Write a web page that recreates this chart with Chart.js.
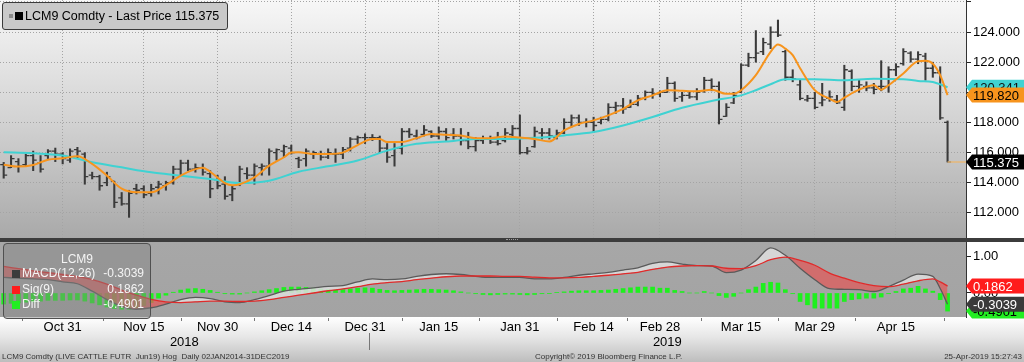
<!DOCTYPE html>
<html>
<head>
<meta charset="utf-8">
<script src="https://cdn.jsdelivr.net/npm/chart.js@4.4.1/dist/chart.umd.min.js"></script>
<style>
  body { margin: 0; width: 1024px; height: 362px; position: relative; overflow: hidden; background: #fff;
         font-family: "Liberation Sans", Arial, sans-serif; }
  canvas { position: absolute; left: 0; }
  #main { top: 0; }
  #macd { top: 242px; }
  #sep { position: absolute; left: 0; top: 238px; width: 1024px; height: 4px; background: #3c3c3c; }
  #grip { position: absolute; left: 506px; top: 239px; width: 12px; height: 0; border-top: 1px dotted #9a9a9a; }
  #leg1 { position: absolute; left: 2px; top: 2px; width: 224px; height: 26px; background: #c9c9c9; white-space: nowrap;
          border: 1px solid #3a3a3a; border-radius: 3px; font-size: 12.5px; line-height: 26px; color: #000; }
  #leg1 .sq { position: absolute; }
  #leg2 { position: absolute; left: 3px; top: 243px; width: 146px; height: 74px; background: rgba(130,130,130,0.45);
          border: 1px solid #505050; border-radius: 4px; font-size: 12px; color: #f4f4f4; white-space: nowrap; }
  #leg2 div { position: absolute; left: 0; width: 146px; height: 15px; line-height: 15px; }
  #leg2 .sq { position: absolute; left: 8px; top: 4px; width: 8px; height: 8px; }
  #leg2 .nm { position: absolute; left: 18px; }
  #leg2 .vl { position: absolute; right: 6px; }
  .foot { position: absolute; top: 352px; font-size: 8px; color: #333; white-space: pre; }
</style>
</head>
<body>
<canvas id="main" width="1024" height="238"></canvas>
<div id="sep"></div>
<div id="grip"></div>
<canvas id="macd" width="1024" height="120"></canvas>

<div id="leg1">
  <span class="sq" style="left:6px;top:11px;width:4px;height:4px;background:#8a8a8a"></span>
  <span class="sq" style="left:12px;top:9px;width:8px;height:8px;background:#000"></span>
  <span style="position:absolute;left:22px">LCM9 Comdty - Last Price <span id="lastTxt"></span></span>
</div>

<div id="leg2">
  <div style="top:8px;text-align:center;">LCM9</div>
  <div style="top:22px"><span class="sq" style="background:#3c3c3c"></span><span class="nm">MACD(12,26)</span><span class="vl" id="macdTxt"></span></div>
  <div style="top:38px"><span class="sq" style="background:#ff1c1c"></span><span class="nm">Sig(9)</span><span class="vl" id="sigTxt"></span></div>
  <div style="top:53px"><span class="sq" style="background:#22ee22"></span><span class="nm">Diff</span><span class="vl" id="diffTxt"></span></div>
</div>

<div class="foot" style="left:2px">LCM9 Comdty (LIVE CATTLE FUTR  Jun19) Hog  Daily 02JAN2014-31DEC2019</div>
<div class="foot" style="left:535px">Copyright© 2019 Bloomberg Finance L.P.</div>
<div class="foot" style="right:2px">25-Apr-2019 15:27:43</div>

<script>
// trading days shown on the chart
const dates = [
    'Oct 19', 'Oct 22', 'Oct 23', 'Oct 24', 'Oct 25', 'Oct 26', 'Oct 29', 'Oct 30', 'Oct 31',
    'Nov 1', 'Nov 2', 'Nov 5', 'Nov 6', 'Nov 7', 'Nov 8', 'Nov 9', 'Nov 12', 'Nov 13', 'Nov 14', 'Nov 15',
    'Nov 16', 'Nov 19', 'Nov 20', 'Nov 21', 'Nov 23', 'Nov 26', 'Nov 27', 'Nov 28', 'Nov 29', 'Nov 30',
    'Dec 3', 'Dec 4', 'Dec 5', 'Dec 6', 'Dec 7', 'Dec 10', 'Dec 11', 'Dec 12', 'Dec 13', 'Dec 14',
    'Dec 17', 'Dec 18', 'Dec 19', 'Dec 20', 'Dec 21', 'Dec 24', 'Dec 26', 'Dec 27', 'Dec 28', 'Dec 31',
    'Jan 2', 'Jan 3', 'Jan 4', 'Jan 7', 'Jan 8', 'Jan 9', 'Jan 10', 'Jan 11', 'Jan 14', 'Jan 15',
    'Jan 16', 'Jan 17', 'Jan 18', 'Jan 22', 'Jan 23', 'Jan 24', 'Jan 25', 'Jan 28', 'Jan 29', 'Jan 30', 'Jan 31',
    'Feb 1', 'Feb 4', 'Feb 5', 'Feb 6', 'Feb 7', 'Feb 8', 'Feb 11', 'Feb 12', 'Feb 13', 'Feb 14',
    'Feb 15', 'Feb 19', 'Feb 20', 'Feb 21', 'Feb 22', 'Feb 25', 'Feb 26', 'Feb 27', 'Feb 28',
    'Mar 1', 'Mar 4', 'Mar 5', 'Mar 6', 'Mar 7', 'Mar 8', 'Mar 11', 'Mar 12', 'Mar 13', 'Mar 14', 'Mar 15',
    'Mar 18', 'Mar 19', 'Mar 20', 'Mar 21', 'Mar 22', 'Mar 25', 'Mar 26', 'Mar 27', 'Mar 28', 'Mar 29',
    'Apr 1', 'Apr 2', 'Apr 3', 'Apr 4', 'Apr 5', 'Apr 8', 'Apr 9', 'Apr 10', 'Apr 11', 'Apr 12', 'Apr 15',
    'Apr 16', 'Apr 17', 'Apr 18', 'Apr 22', 'Apr 23', 'Apr 24', 'Apr 25'
];
const tickLabels = ['Oct 31', 'Nov 15', 'Nov 30', 'Dec 14', 'Dec 31', 'Jan 15', 'Jan 31', 'Feb 14', 'Feb 28', 'Mar 15', 'Mar 29', 'Apr 15'];
const priceTicks = [110, 112, 114, 116, 118, 120, 122, 124, 126];

// daily OHLC, LCM9
const opens = [
    115.2, 115.0, 115.4, 115.2, 115.8, 115.3, 115.8, 116.1, 115.9, 115.5,
    116.2, 115.9, 114.5, 114.4, 114.0, 114.1, 113.0, 112.6, 113.6, 113.6,
    113.3, 113.7, 113.8, 114.0, 114.9, 115.3, 114.9, 115.0, 114.6, 114.2,
    113.9, 113.2, 113.9, 114.6, 114.5, 115.0, 115.1, 116.0, 116.1, 116.3,
    115.6, 115.6, 115.9, 115.9, 115.7, 115.9, 115.9, 116.3, 116.9, 117.0,
    117.0, 117.0, 116.3, 115.8, 116.3, 117.4, 117.1, 117.2, 117.4, 117.1,
    117.4, 117.2, 117.1, 116.8, 116.4, 116.8, 116.9, 116.7, 116.8, 117.2,
    117.6, 116.0, 116.4, 117.3, 117.3, 117.0, 117.3, 118.0, 118.3, 118.0,
    118.0, 118.0, 118.2, 119.0, 119.1, 119.0, 119.2, 119.6, 120.0, 119.9,
    120.0, 120.6, 119.7, 119.8, 119.7, 120.1, 120.8, 120.4, 118.4, 119.3,
    120.0, 121.8, 122.3, 122.7, 123.2, 124.0, 122.7, 121.0, 120.5, 119.5,
    119.6, 119.3, 119.6, 119.5, 119.0, 121.4, 120.4, 120.4, 120.3, 120.4,
    120.4, 121.5, 121.9, 122.6, 122.2, 122.4, 121.6, 121.3, 118.0
];
const highs = [
    115.35, 115.8, 115.6, 115.9, 116.1, 115.8, 116.2, 116.3, 116.0, 116.25,
    116.35, 116.0, 114.7, 114.5, 114.7, 114.1, 113.35, 113.5, 113.9, 113.8,
    113.9, 114.1, 114.1, 115.1, 115.5, 115.5, 115.25, 115.25, 114.8, 114.5,
    114.4, 113.8, 115.1, 115.0, 115.25, 115.25, 116.25, 116.25, 116.5, 116.5,
    115.7, 116.25, 116.1, 116.1, 116.25, 116.25, 116.35, 117.0, 117.1, 117.25,
    117.2, 117.1, 116.6, 116.6, 117.6, 117.6, 117.5, 117.8, 117.45, 117.7,
    117.6, 117.6, 117.6, 117.35, 117.0, 117.1, 117.1, 117.35, 117.6, 117.8,
    118.5, 116.35, 117.7, 117.6, 117.6, 117.5, 118.25, 118.5, 118.5, 118.25,
    118.35, 118.35, 119.25, 119.35, 119.6, 119.5, 119.8, 120.1, 120.25, 120.1,
    121.0, 120.7, 120.0, 120.0, 120.25, 121.0, 120.9, 120.7, 119.25, 120.0,
    121.9, 122.6, 124.1, 123.6, 124.35, 124.8, 122.8, 121.5, 120.8, 119.8,
    120.0, 120.6, 120.1, 119.8, 121.8, 121.5, 120.8, 120.7, 120.6, 122.1,
    121.7, 121.9, 122.9, 122.7, 122.7, 122.6, 122.0, 121.7, 118.1
];
const lows = [
    114.3, 115.0, 114.7, 115.1, 114.8, 114.7, 115.6, 115.4, 115.25, 115.35,
    115.6, 113.9, 114.25, 113.5, 113.8, 112.35, 112.5, 111.7, 113.25, 113.0,
    113.1, 113.25, 113.5, 113.9, 114.5, 114.8, 114.7, 114.5, 113.0, 113.6,
    112.9, 112.8, 113.8, 114.25, 113.9, 114.5, 114.5, 115.5, 115.7, 115.9,
    115.0, 115.1, 115.6, 115.5, 115.6, 115.35, 115.6, 116.1, 116.6, 116.6,
    116.8, 116.0, 115.35, 115.1, 115.9, 117.0, 116.9, 117.1, 117.0, 116.9,
    116.8, 116.9, 116.5, 116.25, 116.1, 116.6, 116.6, 116.5, 116.7, 117.0,
    115.9, 115.9, 116.35, 116.9, 116.9, 116.9, 117.25, 117.7, 117.8, 117.7,
    117.35, 117.9, 118.1, 118.6, 118.6, 119.0, 119.1, 119.5, 119.6, 119.7,
    120.0, 119.4, 119.4, 119.6, 119.5, 120.0, 120.1, 117.9, 118.4, 119.25,
    120.0, 121.7, 122.0, 122.5, 122.9, 123.7, 120.8, 120.7, 119.5, 119.4,
    118.9, 119.1, 119.4, 119.25, 118.8, 120.1, 120.0, 120.1, 119.9, 120.1,
    120.0, 121.1, 121.8, 122.0, 121.9, 120.8, 121.0, 118.2, 115.375
];
const closes = [
    114.5, 115.6, 115.1, 115.8, 115.5, 114.9, 116.1, 115.9, 115.6, 116.1,
    116.1, 114.4, 114.4, 113.8, 114.4, 112.7, 112.6, 113.3, 113.5, 113.2,
    113.6, 113.9, 114.0, 114.9, 115.3, 114.9, 115.0, 114.7, 113.6, 113.8,
    113.1, 113.6, 114.9, 114.5, 115.1, 115.1, 116.1, 116.2, 116.4, 116.0,
    115.5, 116.1, 116.0, 115.7, 116.0, 115.9, 116.2, 116.9, 117.0, 117.0,
    117.0, 116.3, 115.7, 116.3, 117.4, 117.2, 117.0, 117.5, 117.1, 117.4,
    117.0, 117.1, 116.8, 116.4, 116.8, 116.9, 116.7, 116.6, 117.3, 117.6,
    116.0, 116.1, 117.4, 117.3, 117.1, 117.3, 118.0, 118.3, 118.0, 118.0,
    117.8, 118.2, 119.0, 119.1, 118.9, 119.2, 119.6, 120.0, 119.9, 120.0,
    120.6, 119.6, 119.8, 119.7, 120.0, 120.8, 120.4, 118.2, 119.0, 119.8,
    121.8, 122.3, 122.6, 123.3, 124.0, 123.8, 121.0, 120.9, 119.6, 119.6,
    119.0, 119.5, 119.7, 119.3, 121.5, 120.4, 120.5, 120.3, 120.2, 120.4,
    121.5, 121.7, 122.7, 122.2, 122.5, 121.6, 121.3, 118.3, 115.375
];

// orange (fast) and cyan (slow) moving averages, read at these bars
const fastIdx = [0, 2, 4, 6, 8, 10, 12, 14, 16, 18, 20, 22, 24, 26, 27, 28, 30, 31, 32, 34, 36, 38, 39, 40, 42, 44, 46, 48, 50, 51,
    52, 54, 56, 58, 60, 62, 64, 66, 68, 70, 72, 74, 76, 78, 80, 82, 84, 86, 88, 90, 92, 94, 96, 98, 99, 100, 102, 104, 105, 106,
    107, 108, 110, 112, 113, 114, 116, 118, 119, 120, 122, 124, 125, 126, 127, 128];
const fastVals = [115.2, 115.07, 115.18, 115.53, 115.62, 115.76, 115.25, 114.47, 113.6, 113.36, 113.36, 113.84, 114.47, 114.9, 115.0, 114.73,
    113.98, 113.84, 113.9, 114.36, 115.13, 115.69, 116.0, 116.02, 115.91, 115.91, 116.0, 116.5, 116.9, 116.9,
    116.7, 116.7, 116.96, 117.24, 117.18, 117.13, 116.96, 116.96, 117.07, 117.0, 116.9, 116.74, 117.47, 117.9, 118.14, 118.47, 118.9,
    119.47, 119.8, 120.14, 120.1, 120.07, 120.18, 119.9, 119.9, 120.14, 121.14, 122.69, 123.18, 122.9,
    122.47, 121.6, 120.14, 119.58, 119.36, 119.65, 120.18, 120.47, 120.18, 120.47, 121.25, 122.07, 122.09, 121.9, 121.14, 119.82];
const slowIdx = [0, 4, 8, 12, 16, 20, 24, 28, 32, 36, 40, 44, 48, 52, 56, 60, 64, 68, 72, 76, 80, 84, 88, 92, 96, 100, 102, 104, 106,
    110, 114, 118, 122, 124, 126, 128];
const slowVals = [116.02, 115.96, 115.8, 115.36, 115.02, 114.69, 114.47, 114.24, 113.98, 114.13, 114.73, 115.09, 115.47, 116.13,
    116.58, 116.73, 116.91, 116.9, 116.98, 117.14, 117.36, 117.8, 118.36, 118.98, 119.43, 119.8, 120.14, 120.54, 120.87,
    120.87, 120.8, 120.91, 120.87, 120.76, 120.69, 120.341];

// MACD(12,26) and Sig(9), read at these bars
const macdIdx = [0, 2, 4, 6, 8, 10, 12, 14, 16, 18, 20, 22, 24, 26, 28, 30, 32, 34, 36, 38, 40, 42, 44, 46, 48, 50, 52, 54, 56, 58,
    60, 62, 64, 66, 68, 70, 72, 74, 76, 78, 80, 82, 84, 86, 88, 90, 92, 94, 96, 98, 100, 102, 104, 106, 108, 110, 112, 114,
    116, 118, 120, 122, 124, 126, 127, 128];
const macdVals = [0.42, 0.4, 0.38, 0.36, 0.3, 0.25, 0.05, -0.18, -0.36, -0.44, -0.4, -0.3, -0.18, -0.12, -0.15, -0.24, -0.26, -0.18, -0.07, 0.05,
    0.1, 0.14, 0.18, 0.2, 0.3, 0.38, 0.36, 0.38, 0.45, 0.5, 0.52, 0.5, 0.45, 0.42, 0.42, 0.42, 0.38, 0.38, 0.42, 0.48,
    0.52, 0.56, 0.62, 0.68, 0.8, 0.84, 0.78, 0.74, 0.73, 0.55, 0.62, 0.88, 1.22, 1.02, 0.67, 0.36, 0.12, 0.1,
    0.09, 0.04, 0.17, 0.35, 0.51, 0.45, 0.12, -0.3039];
const sigVals = [0.72, 0.66, 0.6, 0.55, 0.5, 0.44, 0.36, 0.24, 0.08, -0.06, -0.17, -0.24, -0.26, -0.24, -0.22, -0.22, -0.23, -0.22, -0.18, -0.12,
    -0.06, 0.0, 0.06, 0.11, 0.17, 0.24, 0.28, 0.31, 0.36, 0.4, 0.44, 0.46, 0.46, 0.46, 0.45, 0.45, 0.43, 0.41, 0.41, 0.42,
    0.45, 0.48, 0.52, 0.56, 0.64, 0.7, 0.73, 0.74, 0.73, 0.67, 0.66, 0.74, 0.9, 0.97, 0.88, 0.75, 0.54, 0.4,
    0.28, 0.2, 0.17, 0.24, 0.33, 0.38, 0.3, 0.1862];
// Diff histogram, one per bar
const diffVals = [
    -0.3, -0.28, -0.27, -0.25, -0.24, -0.22, -0.2, -0.2, -0.2, -0.19,
    -0.19, -0.22, -0.27, -0.32, -0.38, -0.42, -0.44, -0.44, -0.4, -0.34,
    -0.26, -0.14, -0.06, 0.02, 0.08, 0.11, 0.12, 0.1, 0.07, 0.02,
    -0.02, -0.03, -0.03, 0.0, 0.03, 0.06, 0.09, 0.12, 0.15, 0.16,
    0.16, 0.15, 0.13, 0.11, 0.1, 0.09, 0.09, 0.11, 0.13, 0.14,
    0.13, 0.1, 0.07, 0.06, 0.07, 0.08, 0.09, 0.1, 0.1, 0.09,
    0.08, 0.06, 0.03, 0.0, -0.02, -0.04, -0.05, -0.04, -0.03, -0.03,
    -0.04, -0.05, -0.04, -0.02, -0.01, 0.01, 0.03, 0.05, 0.06, 0.06,
    0.06, 0.07, 0.08, 0.1, 0.12, 0.14,
    0.16, 0.16, 0.16, 0.13, 0.13, 0.07, 0.04, 0.0, 0.0, 0.04,
    0.0, -0.07, -0.12, -0.09, 0.0, 0.09, 0.16, 0.26, 0.29, 0.27,
    0.09, -0.02, -0.23, -0.32, -0.41, -0.41, -0.41, -0.41, -0.23, -0.18,
    -0.16, -0.14, -0.14, -0.11, -0.02, 0.04, 0.11, 0.13, 0.18, 0.11,
    0.05, -0.18, -0.4901
];

const tickIdx = tickLabels.map(d => dates.indexOf(d));
const lastIdx = dates.length - 1;
const lastClose = closes[lastIdx];
const xMin = -0.5, xMax = 130.5;

document.getElementById('lastTxt').textContent = lastClose.toFixed(3);
document.getElementById('macdTxt').textContent = macdVals[macdVals.length - 1].toFixed(4);
document.getElementById('sigTxt').textContent = sigVals[sigVals.length - 1].toFixed(4);
document.getElementById('diffTxt').textContent = diffVals[lastIdx].toFixed(4);

const pts = (idx, vals) => idx.map((x, k) => ({ x: x, y: vals[k] }));

// fills the plot area (and optionally the strip below it)
function bgPlugin(stops, stripStops) {
    return {
        id: 'bg',
        beforeDraw(chart) {
            const { ctx, chartArea: a } = chart;
            ctx.save();
            const g = ctx.createLinearGradient(0, a.top, 0, a.bottom);
            stops.forEach(s => g.addColorStop(s[0], s[1]));
            ctx.fillStyle = g;
            ctx.fillRect(a.left, a.top, a.right - a.left, a.bottom - a.top);
            if (stripStops) {
                const g2 = ctx.createLinearGradient(0, a.bottom, 0, chart.height);
                stripStops.forEach(s => g2.addColorStop(s[0], s[1]));
                ctx.fillStyle = g2;
                ctx.fillRect(0, a.bottom, chart.width, chart.height - a.bottom);
            }
            ctx.restore();
        }
    };
}

// tag on the right axis pointing at a value
function drawTag(ctx, x0, y, bg, fg, text) {
    const h = 15, w = 1024 - x0;
    ctx.fillStyle = bg;
    ctx.beginPath();
    ctx.moveTo(x0, y);
    ctx.lineTo(x0 + 6, y - h / 2);
    ctx.lineTo(x0 + w, y - h / 2);
    ctx.lineTo(x0 + w, y + h / 2);
    ctx.lineTo(x0 + 6, y + h / 2);
    ctx.closePath();
    ctx.fill();
    ctx.fillStyle = fg;
    ctx.font = '13px "Liberation Sans", Arial, sans-serif';
    ctx.textAlign = 'left';
    ctx.textBaseline = 'middle';
    ctx.fillText(text, x0 + 7, y + 1);
}

const ohlcTicks = {
    id: 'ohlcTicks',
    beforeDatasetsDraw(chart) {
        const { ctx, scales: { x, y } } = chart;
        ctx.save();
        ctx.strokeStyle = '#3a3a3a';
        ctx.lineWidth = 1.3;
        ctx.beginPath();
        dates.forEach((d, i) => {
            const px = x.getPixelForValue(i);
            const po = y.getPixelForValue(opens[i]);
            const pc = y.getPixelForValue(closes[i]);
            ctx.moveTo(px - 3.5, po); ctx.lineTo(px, po);
            ctx.moveTo(px, pc); ctx.lineTo(px + 3.5, pc);
        });
        ctx.stroke();
        ctx.restore();
    }
};

const mainTags = {
    id: 'mainTags',
    afterDraw(chart) {
        const { ctx, chartArea: a, scales: { y } } = chart;
        ctx.save();
        const s = slowVals[slowVals.length - 1], f = fastVals[fastVals.length - 1];
        drawTag(ctx, a.right, y.getPixelForValue(s), '#3fd2d2', '#111', s.toFixed(3));
        drawTag(ctx, a.right, y.getPixelForValue(f), '#f7941d', '#000', f.toFixed(3));
        drawTag(ctx, a.right, y.getPixelForValue(lastClose), '#000', '#fff', lastClose.toFixed(3));
        ctx.restore();
    }
};

const macdTags = {
    id: 'macdTags',
    afterDraw(chart) {
        const { ctx, chartArea: a, scales: { y } } = chart;
        ctx.save();
        const m = macdVals[macdVals.length - 1], s = sigVals[sigVals.length - 1], d = diffVals[lastIdx];
        drawTag(ctx, a.right, y.getPixelForValue(d), '#22ee22', '#000', d.toFixed(4));
        drawTag(ctx, a.right, y.getPixelForValue(s), '#ff1c1c', '#fff', s.toFixed(4));
        drawTag(ctx, a.right, y.getPixelForValue(m), '#3a3a3a', '#fff', m.toFixed(4));
        ctx.restore();
    }
};

// year captions under the date labels, split at the year change,
// plus the small marks between the date labels
const yearLabels = {
    id: 'years',
    afterDraw(chart) {
        const { ctx, chartArea: a, scales: { x } } = chart;
        const split = x.getPixelForValue(dates.indexOf('Dec 31') + 0.5);
        ctx.save();
        ctx.font = '13px "Liberation Sans", Arial, sans-serif';
        ctx.fillStyle = '#000';
        ctx.textAlign = 'center';
        ctx.textBaseline = 'middle';
        ctx.fillText('2018', (a.left + split) / 2, 100);
        ctx.fillText('2019', (split + a.right) / 2, 100);
        ctx.strokeStyle = '#777';
        ctx.lineWidth = 1;
        ctx.beginPath();
        ctx.moveTo(Math.round(split) + 0.5, 91);
        ctx.lineTo(Math.round(split) + 0.5, 108);
        const mids = [tickIdx[0] - (tickIdx[1] - tickIdx[0]) / 2];
        for (let k = 1; k < tickIdx.length; k++) mids.push((tickIdx[k - 1] + tickIdx[k]) / 2);
        mids.push(lastIdx - 0.5);
        mids.forEach(m => {
            const px = Math.round(x.getPixelForValue(m)) + 0.5;
            ctx.moveTo(px, a.bottom + 1);
            ctx.lineTo(px, a.bottom + 4);
        });
        ctx.stroke();
        ctx.restore();
    }
};

const axisFont = { family: '"Liberation Sans", Arial, sans-serif', size: 13 };
const noPad = s => { s.paddingTop = 0; s.paddingBottom = 0; s.paddingLeft = 0; s.paddingRight = 0; };

new Chart(document.getElementById('main').getContext('2d'), {
    type: 'bar',
    data: {
        datasets: [
            {
                type: 'line', label: 'last', data: [{ x: lastIdx, y: lastClose }, { x: xMax, y: lastClose }],
                borderColor: '#e6b878', borderWidth: 1.5, pointRadius: 0, order: 0
            },
            {
                type: 'line', label: 'fast', data: pts(fastIdx, fastVals),
                borderColor: '#f7941d', borderWidth: 2, pointRadius: 0, cubicInterpolationMode: 'monotone', order: 1
            },
            {
                type: 'line', label: 'slow', data: pts(slowIdx, slowVals),
                borderColor: '#3fd2d2', borderWidth: 2, pointRadius: 0, cubicInterpolationMode: 'monotone', order: 2
            },
            {
                type: 'bar', label: 'range', data: dates.map((d, i) => ({ x: i, y: [lows[i], highs[i]] })),
                backgroundColor: '#3a3a3a', barThickness: 1.4, order: 3
            }
        ]
    },
    options: {
        responsive: false,
        animation: false,
        layout: { padding: 0 },
        plugins: { legend: { display: false }, tooltip: { enabled: false } },
        scales: {
            x: {
                type: 'linear', min: xMin, max: xMax, offset: false,
                afterBuildTicks: s => { s.ticks = tickIdx.map(v => ({ value: v })); },
                afterFit: s => { s.height = 0; noPad(s); },
                ticks: { display: false },
                grid: { color: '#a4a4a4', drawTicks: false, offset: false },
                border: { display: false, dash: [1, 2] }
            },
            y: {
                position: 'right', min: 110.33, max: 126.13,
                afterBuildTicks: s => { s.ticks = priceTicks.map(v => ({ value: v })); },
                afterFit: s => { s.width = 58; noPad(s); },
                ticks: {
                    color: '#000', font: axisFont, padding: 2,
                    callback: v => (v >= 112 && v <= 124) ? v.toFixed(3) : ''
                },
                grid: { color: '#a4a4a4', tickColor: '#222', tickLength: 5, tickBorderDash: [] },
                border: { display: true, color: '#333', width: 1, dash: [1, 2] }
            }
        }
    },
    plugins: [bgPlugin([[0, '#f7f7f7'], [0.5, '#d3d3d3'], [1, '#a9a9a9']]), ohlcTicks, mainTags]
});

new Chart(document.getElementById('macd').getContext('2d'), {
    type: 'bar',
    data: {
        datasets: [
            {
                type: 'line', label: 'Sig(9)', data: pts(macdIdx, sigVals),
                borderColor: '#e02a2a', borderWidth: 1.3, pointRadius: 0, cubicInterpolationMode: 'monotone', order: 0
            },
            {
                type: 'line', label: 'MACD(12,26)', data: pts(macdIdx, macdVals),
                borderColor: '#5a5a5a', borderWidth: 1.3, pointRadius: 0, cubicInterpolationMode: 'monotone', order: 1,
                fill: { target: 0, above: 'rgba(222,222,222,0.85)', below: 'rgba(226,88,88,0.72)' }
            },
            {
                type: 'bar', label: 'Diff', data: diffVals.map((v, i) => ({ x: i, y: v })),
                backgroundColor: '#1ef01e', barThickness: 4, order: 3
            }
        ]
    },
    options: {
        responsive: false,
        animation: false,
        layout: { padding: 0 },
        plugins: { legend: { display: false }, tooltip: { enabled: false } },
        scales: {
            x: {
                type: 'linear', min: xMin, max: xMax, offset: false,
                afterBuildTicks: s => { s.ticks = tickIdx.map(v => ({ value: v })); },
                afterFit: s => { s.height = 45; noPad(s); },
                ticks: { color: '#000', font: axisFont, padding: 3, maxRotation: 0, autoSkip: false, callback: v => dates[v] },
                grid: { display: false, drawTicks: false, offset: false },
                border: { display: false }
            },
            y: {
                position: 'right', min: -0.65, max: 1.38,
                afterBuildTicks: s => { s.ticks = [0, 1].map(v => ({ value: v })); },
                afterFit: s => { s.width = 58; noPad(s); },
                ticks: { color: '#000', font: axisFont, padding: 2, callback: v => v.toFixed(2) },
                grid: { drawOnChartArea: false, tickColor: '#222', tickLength: 5 },
                border: { display: true, color: '#333', width: 1 }
            }
        }
    },
    plugins: [bgPlugin([[0, '#a7a7a7'], [1, '#a3a3a3']], [[0, '#ffffff'], [0.45, '#e6e6e6'], [1, '#bdbdbd']]), macdTags, yearLabels]
});
</script>
</body>
</html>
